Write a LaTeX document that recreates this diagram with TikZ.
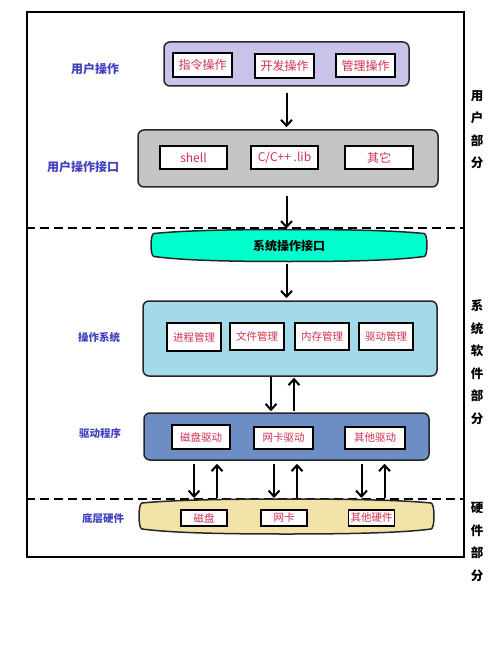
\documentclass[tikz,border=0pt]{standalone}
\usepackage{fontspec}
\setmainfont{Noto Sans CJK SC}
\usetikzlibrary{arrows.meta}

\definecolor{opfill}{HTML}{C9C3EA}
\definecolor{apifill}{HTML}{C4C4C4}
\definecolor{sysfill}{HTML}{00FFCC}
\definecolor{osfill}{HTML}{A3DAEA}
\definecolor{drvfill}{HTML}{6D8EC4}
\definecolor{hwfill}{HTML}{F2E3A8}
\definecolor{itemred}{HTML}{D03050}
\definecolor{sideblue}{HTML}{4040C0}

\begin{document}
\begin{tikzpicture}[x=1pt,y=-1pt,line width=2pt,>={Straight Barb[length=6pt,width=11pt]}]
			\tikzstyle{layer}=[draw=black!85, line width=1.5pt, rounded corners=6pt]
			\tikzstyle{item}=[draw, fill=white, text=itemred, line width=1.6pt, inner sep=0pt]
			\tikzstyle{side}=[text=sideblue, font=\bfseries\fontsize{10.5}{12}\selectfont]
			\tikzstyle{part}=[align=center, font=\bfseries\fontsize{12.5}{22.5}\selectfont]

			\useasboundingbox (0,0) rectangle (500,668);
			\node[draw, line width=1.5pt, minimum width=437pt, minimum height=545pt] (frame) at (245.5,284.5) {};
			\coordinate (cut1) at (0,228);
			\coordinate (cut2) at (0,499);
			\draw[dashed, dash pattern=on 9pt off 5pt, line width=1.6pt] (frame.west |- cut1) -- (frame.east |- cut1);
			\draw[dashed, dash pattern=on 9pt off 5pt, line width=1.6pt] (frame.west |- cut2) -- (frame.east |- cut2);

			% layers
			\node[layer, fill=opfill, minimum width=245pt, minimum height=44pt] (uop) at (286.5,64) {};
			\node[layer, fill=apifill, minimum width=300pt, minimum height=57pt] (uif) at (288,158.5) {};
			\node[layer, fill=osfill, minimum width=294pt, minimum height=75pt] (os) at (290,338.5) {};
			\node[layer, fill=drvfill, minimum width=285pt, minimum height=47pt] (drv) at (286.5,436.5) {};
			\node[minimum width=268pt, minimum height=30pt, inner sep=0pt] (sif) at (289,245.5) {};
			\node[minimum width=287pt, minimum height=33pt, inner sep=0pt] (hw) at (286.5,516.5) {};

			% the two bands
			\foreach \b/\c in {sif/sysfill, hw/hwfill}
				\draw[draw=black!85, line width=1.5pt, fill=\c] ([yshift=-4pt]\b.north west)
					.. controls ([xshift=30pt,yshift=-1pt]\b.north west) and ([xshift=-60pt]\b.north) .. (\b.north)
					.. controls ([xshift=60pt]\b.north) and ([xshift=-30pt,yshift=-1pt]\b.north east) .. ([yshift=-4pt]\b.north east)
					.. controls ([xshift=4pt,yshift=-4pt]\b.north east) and ([xshift=4pt,yshift=5pt]\b.south east) .. ([yshift=5pt]\b.south east)
					.. controls ([xshift=-30pt,yshift=1pt]\b.south east) and ([xshift=60pt]\b.south) .. (\b.south)
					.. controls ([xshift=-60pt]\b.south) and ([xshift=30pt,yshift=1pt]\b.south west) .. ([yshift=5pt]\b.south west)
					.. controls ([xshift=-4pt,yshift=5pt]\b.south west) and ([xshift=-4pt,yshift=-4pt]\b.north west) .. cycle;
			\node[font=\bfseries\fontsize{12}{14}\selectfont] (l_sif) at (sif) {系统操作接口};

			% items
			\begin{scope}[every node/.append style={font=\fontsize{12}{14}\selectfont}]
				\node[item, minimum width=59pt, minimum height=24pt] (cmd) at (202.5,65) {指令操作};
				\node[item, minimum width=59pt, minimum height=24pt] (dev) at (284.5,66) {开发操作};
				\node[item, minimum width=59pt, minimum height=23pt] (mgr) at (365.5,65.5) {管理操作};
				\node[item, minimum width=67pt, minimum height=23pt] (shell) at (193.5,157.5) {shell};
				\node[item, minimum width=67pt, minimum height=23pt] (lib) at (284.5,157.5) {C/C++ .lib};
				\node[item, minimum width=68pt, minimum height=23pt] (other) at (379,157.5) {其它};
			\end{scope}
			\begin{scope}[every node/.append style={font=\fontsize{10.5}{12}\selectfont}]
				\node[item, minimum width=54pt, minimum height=28pt] (proc) at (194,337) {进程管理};
				\node[item, minimum width=54pt, minimum height=27pt] (file) at (257,336.5) {文件管理};
				\node[item, minimum width=54pt, minimum height=27pt] (mem) at (322,336.5) {内存管理};
				\node[item, minimum width=54pt, minimum height=27pt] (dmgr) at (386,336.5) {驱动管理};
				\node[item, minimum width=58pt, minimum height=24pt] (ddisk) at (201,437) {磁盘驱动};
				\node[item, minimum width=59pt, minimum height=22pt] (dnic) at (283.5,438) {网卡驱动};
				\node[item, minimum width=60pt, minimum height=22pt] (dother) at (375,438) {其他驱动};
				\node[item, minimum width=46pt, minimum height=16pt] (disk) at (204,518) {磁盘};
				\node[item, minimum width=46pt, minimum height=16pt] (nic) at (284,518) {网卡};
				\node[item, minimum width=46pt, minimum height=16pt] (hother) at (371.5,518) {其他硬件};
			\end{scope}

			% labels
			\node[side, font=\bfseries\fontsize{12}{14}\selectfont] (l_uop) at (95,69) {用户操作};
			\node[side, font=\bfseries\fontsize{12}{14}\selectfont] (l_uif) at (83,167) {用户操作接口};
			\node[side] (l_os) at (99,337) {操作系统};
			\node[side] (l_drv) at (100,433) {驱动程序};
			\node[side] (l_hw) at (103,519) {底层硬件};

			\node[part] (p_user) at (477,129.5) {用\\户\\部\\分};
			\node[part] (p_sys) at (477,362) {系\\统\\软\\件\\部\\分};
			\node[part] (p_hw) at (477,542) {硬\\件\\部\\分};

			% arrows
			\draw[->, shorten <=6pt, shorten >=2pt] (uop.south) -- (uop.south |- uif.north);
			\draw[->, shorten <=8pt, shorten >=1pt] (uop.south |- uif.south) -- (uop.south |- sif.north);
			\draw[->, shorten <=2pt, shorten >=2pt] (uop.south |- sif.south) -- (uop.south |- os.north);
			\draw[->, shorten >=1pt] ([xshift=-19pt]os.south) -- ([xshift=-19pt]os.south |- drv.north);
			\draw[->, shorten <=1pt, shorten >=1pt] ([xshift=4pt]os.south |- drv.north) -- ([xshift=4pt]os.south);
			\foreach \hwname in {disk, nic, hother} {
				\draw[->, shorten <=3pt, shorten >=1pt] ([xshift=-10pt]\hwname.north |- drv.south) -- ([xshift=-10pt]\hwname.north |- hw.north);
				\draw[->, shorten <=1pt, shorten >=3pt] ([xshift=13pt]\hwname.north |- hw.north) -- ([xshift=13pt]\hwname.north |- drv.south);
			}
		\end{tikzpicture}
\end{document}
